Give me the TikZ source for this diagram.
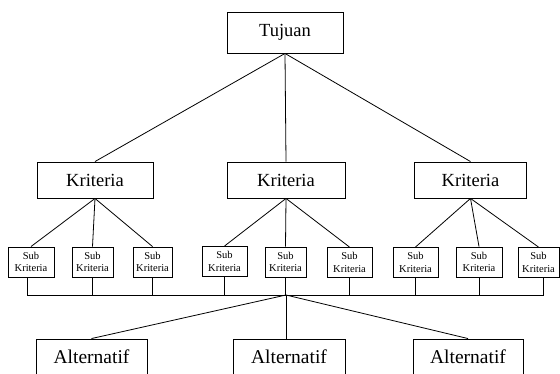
\documentclass[tikz,border=0pt]{standalone}
\usepackage{fontspec}
\setmainfont{Liberation Serif}
\begin{document}
\begin{tikzpicture}[x=1pt,y=-1pt,
  bigbox/.style={draw,line width=0.9pt,inner sep=0pt,minimum height=36pt,font=\fontsize{18.5}{20}\selectfont},
  subbox/.style={draw,line width=0.9pt,inner sep=0pt,minimum height=30pt,align=center,font=\fontsize{10.5}{12.5}\selectfont},
  link/.style={line width=0.8pt}]
\useasboundingbox (0,0) rectangle (560,374);
\clip (0,0) rectangle (560,374);
\node[bigbox,minimum width=116pt,minimum height=41pt] (goal) at (285,32.5) {Tujuan};
\node[bigbox,minimum width=116pt] (k1) at (95,180) {Kriteria};
\node[bigbox,minimum width=118pt] (k2) at (286,180) {Kriteria};
\node[bigbox,minimum width=112pt] (k3) at (470.5,180) {Kriteria};
\node[subbox,minimum width=46pt] (s1) at (31,262) {Sub\\Kriteria};
\node[subbox,minimum width=41pt] (s2) at (92.5,262) {Sub\\Kriteria};
\node[subbox,minimum width=39pt] (s3) at (152.5,262) {Sub\\Kriteria};
\node[subbox,minimum width=45pt] (s4) at (224.5,261.5) {Sub\\Kriteria};
\node[subbox,minimum width=41pt] (s5) at (285.5,262) {Sub\\Kriteria};
\node[subbox,minimum width=45pt] (s6) at (349.5,262.5) {Sub\\Kriteria};
\node[subbox,minimum width=45pt] (s7) at (415.5,262.5) {Sub\\Kriteria};
\node[subbox,minimum width=46pt] (s8) at (479,262) {Sub\\Kriteria};
\node[subbox,minimum width=41pt] (s9) at (538.5,262.5) {Sub\\Kriteria};
\node[bigbox,minimum width=111pt,font=\fontsize{19.5}{21}\selectfont] (a1) at (91.5,357) {Alternatif};
\node[bigbox,minimum width=112pt,font=\fontsize{19.5}{21}\selectfont] (a2) at (289,357) {Alternatif};
\node[bigbox,minimum width=110pt,font=\fontsize{19.5}{21}\selectfont] (a3) at (468,357) {Alternatif};
\coordinate (bus) at (286,295);
\foreach \k in {k1,k2,k3} \draw[link] (goal.south) -- (\k.north);
\foreach \s in {s1,s2,s3} \draw[link] (k1.south) -- (\s.north);
\foreach \s in {s4,s5,s6} \draw[link] (k2.south) -- (\s.north);
\foreach \s in {s7,s8,s9} \draw[link] (k3.south) -- (\s.north);
\foreach \s in {s2,s3,s4,s5,s6,s7,s8} \draw[link] (\s.south) -- (\s.south |- bus);
\draw[link] ([xshift=-4pt]s1.south) -- ([xshift=-4pt]s1.south |- bus) -- ([xshift=4.5pt]s9.south |- bus) -- ([xshift=4.5pt]s9.south);
\draw[link] (bus) -- (a1.north);
\draw[link] (bus) -- (bus |- a2.north);
\draw[link] (bus) -- (a3.north);
\end{tikzpicture}
\end{document}
